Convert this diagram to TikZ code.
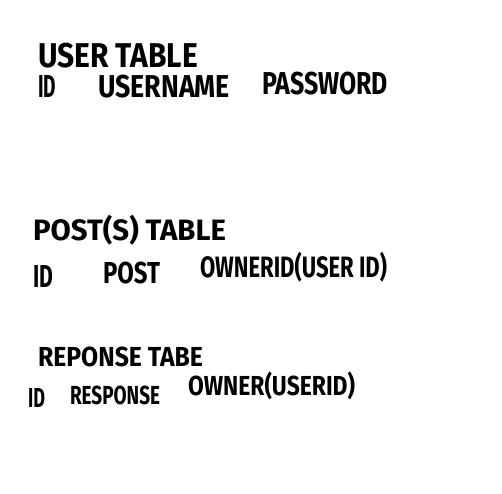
\documentclass[tikz,border=0pt]{standalone}
\usepackage{fontspec}
\setmainfont{Fira Sans}
\usepackage{graphicx}
\newcommand\hw[3]{\resizebox*{#1pt}{#2pt}{\bfseries #3}}
\begin{document}
\begin{tikzpicture}[x=1pt,y=1pt,
  lbl/.style={anchor=west,inner sep=0pt,outer sep=0pt,text=black}]
\useasboundingbox[fill=white] (0,0) rectangle (502,493);
% user table
\node[lbl] (usertitle) at (38,437) {\hw{160}{25}{USER TABLE}};
\node[lbl] (userid) at (38,406) {\hw{18}{22}{ID}};
\node[lbl] (username) at (98,406) {\hw{132}{23}{USERNAME}};
\node[lbl] (password) at (262,409) {\hw{126}{23}{PASSWORD}};
% posts table
\node[lbl] (posttitle) at (33,263) {\hw{193}{30}{POST(S) TABLE}};
\node[lbl] (postid) at (33,217) {\hw{20}{22}{ID}};
\node[lbl] (post) at (103,220) {\hw{57}{22}{POST}};
\node[lbl] (ownerid) at (200,226) {\hw{187}{30}{OWNERID(USER ID)}};
% response table
\node[lbl] (resptitle) at (38,136) {\hw{165}{20}{REPONSE TABE}};
\node[lbl] (respid) at (28,95) {\hw{17}{19}{ID}};
\node[lbl] (response) at (70,98) {\hw{90}{19}{RESPONSE}};
\node[lbl] (owner) at (188,107) {\hw{167}{28}{OWNER(USERID)}};
\end{tikzpicture}
\end{document}
